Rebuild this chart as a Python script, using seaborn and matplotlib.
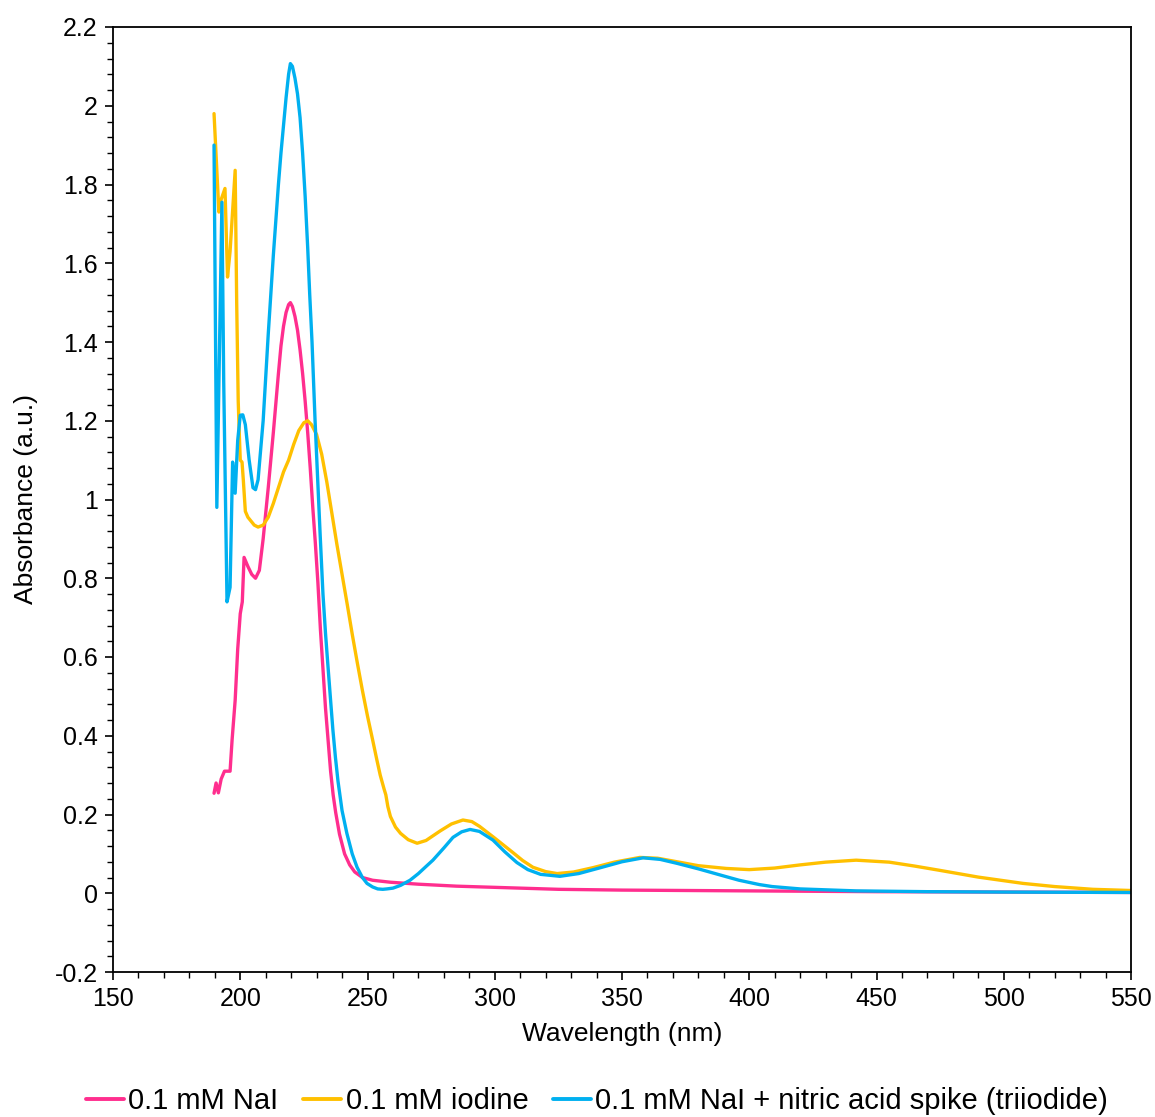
import matplotlib
matplotlib.use("Agg")
import matplotlib.pyplot as plt
import seaborn as sns
import pandas as pd
from matplotlib.ticker import MultipleLocator

# ---------------- data ----------------
nai_wl = [189.7, 190.5, 191.4, 192.5, 193.8, 195, 196, 196.8, 198, 199, 200, 200.8, 201.5,
          203, 204.5, 206, 207.5, 209, 211, 213, 215, 216, 217, 218, 219, 219.7, 220.5, 221.5,
          222.5, 223.5, 224.5, 225.5, 226.5, 227.5, 228.5, 229.5, 230.5, 231.5, 232.5, 233.5,
          234.5, 235.5, 236.5, 237.5, 239, 241, 243, 245, 248, 252, 259, 270, 285, 300, 325,
          350, 375, 400, 450, 500, 550]
nai_abs = [0.254, 0.28, 0.255, 0.29, 0.31, 0.31, 0.31, 0.39, 0.49, 0.62, 0.71, 0.74, 0.853,
           0.83, 0.81, 0.80, 0.82, 0.90, 1.03, 1.17, 1.32, 1.39, 1.44, 1.475, 1.495, 1.50, 1.49,
           1.465, 1.43, 1.38, 1.32, 1.25, 1.17, 1.08, 0.98, 0.89, 0.79, 0.67, 0.57, 0.47, 0.39,
           0.31, 0.25, 0.205, 0.15, 0.10, 0.072, 0.054, 0.04, 0.033, 0.028, 0.023, 0.018,
           0.015, 0.010, 0.008, 0.007, 0.006, 0.004, 0.003, 0.002]

iod_wl = [189.7, 191.6, 192.4, 194, 195, 196, 198, 198.6, 199.2, 199.5, 200, 200.7, 201.2,
          202, 203, 204, 205.5, 207, 209, 211, 213, 215, 217, 219, 221, 223, 225, 226.5, 228,
          230, 232, 234, 236, 238, 240, 242, 244, 246, 248, 250, 252, 253.7, 255, 256.5, 257.2,
          258, 259, 261, 263, 266, 269.5, 273, 278.5, 283, 287.5, 291, 294, 300, 307, 311,
          315, 320, 324.5, 331, 338.6, 347, 357, 364, 371.6, 380, 391, 400, 410, 420, 430,
          442, 455, 465, 475, 490, 507.6, 520, 535, 550]
iod_abs = [1.98, 1.73, 1.76, 1.79, 1.565, 1.63, 1.836, 1.5, 1.25, 1.19, 1.10, 1.095, 1.05,
           0.97, 0.955, 0.947, 0.935, 0.93, 0.935, 0.955, 0.99, 1.03, 1.07, 1.10, 1.14, 1.175,
           1.195, 1.20, 1.19, 1.165, 1.115, 1.045, 0.965, 0.885, 0.81, 0.735, 0.658, 0.585,
           0.515, 0.45, 0.39, 0.338, 0.30, 0.265, 0.25, 0.22, 0.195, 0.168, 0.152, 0.136,
           0.127, 0.134, 0.158, 0.176, 0.186, 0.182, 0.17, 0.14, 0.104, 0.083, 0.066, 0.055,
           0.05, 0.054, 0.065, 0.079, 0.091, 0.089, 0.08, 0.07, 0.063, 0.06, 0.064, 0.072,
           0.079, 0.084, 0.079, 0.069, 0.058, 0.041, 0.025, 0.017, 0.010, 0.007]

tri_wl = [189.7, 190.8, 192.8, 193.5, 194.8, 196, 197, 198, 199, 200, 201, 202, 203.5, 205,
          206, 207, 209, 211, 212, 213, 214, 215, 216, 217, 218, 219, 219.7, 220.5, 221.5,
          222.5, 223.5, 224.5, 225.5, 226.5, 227.3, 228.2, 229.4, 230.5, 231.4, 232.5, 233.5,
          234.5, 235.5, 236.4, 237.4, 238.4, 240, 241.9, 244, 245.9, 248, 249.8, 252, 254,
          256, 257.6, 260, 263, 266.7, 270, 273, 275.7, 280, 283.6, 287, 290.3, 294, 299.3,
          304, 308.7, 313, 318, 325.6, 333, 341, 350, 358.3, 365, 371.6, 380, 391, 396, 404,
          409, 420, 442, 470, 500, 550]
tri_abs = [1.90, 0.98, 1.755, 1.30, 0.74, 0.777, 1.095, 1.016, 1.15, 1.214, 1.215, 1.19, 1.10,
           1.03, 1.025, 1.05, 1.20, 1.42, 1.52, 1.62, 1.71, 1.80, 1.88, 1.95, 2.02, 2.08, 2.107,
           2.10, 2.07, 2.03, 1.97, 1.88, 1.77, 1.64, 1.52, 1.40, 1.20, 1.04, 0.91, 0.76, 0.66,
           0.574, 0.49, 0.415, 0.345, 0.285, 0.21, 0.152, 0.10, 0.066, 0.04, 0.025, 0.016,
           0.011, 0.010, 0.011, 0.013, 0.02, 0.033, 0.05, 0.068, 0.084, 0.115, 0.142, 0.156,
           0.162, 0.157, 0.135, 0.105, 0.078, 0.06, 0.048, 0.043, 0.05, 0.064, 0.08, 0.09,
           0.086, 0.076, 0.062, 0.042, 0.033, 0.022, 0.017, 0.011, 0.006, 0.004, 0.003, 0.002]

labels = ["0.1 mM NaI", "0.1 mM iodine", "0.1 mM NaI + nitric acid spike (triiodide)"]
colors = ["#FF2E8E", "#FFC000", "#00B0F0"]

df = pd.concat([
    pd.DataFrame({"Wavelength": nai_wl, "Absorbance": nai_abs, "Sample": labels[0]}),
    pd.DataFrame({"Wavelength": iod_wl, "Absorbance": iod_abs, "Sample": labels[1]}),
    pd.DataFrame({"Wavelength": tri_wl, "Absorbance": tri_abs, "Sample": labels[2]}),
], ignore_index=True)

# ---------------- style ----------------
sns.set_style("ticks")
plt.rcParams["font.family"] = ["Liberation Sans", "DejaVu Sans"]
plt.rcParams["text.color"] = "black"
plt.rcParams["axes.labelcolor"] = "black"

fig = plt.figure(figsize=(11.55, 11.17), dpi=100)
ax = fig.add_axes([113 / 1155, 1 - 972 / 1117, (1131 - 113) / 1155, (972 - 27) / 1117])

sns.lineplot(data=df, x="Wavelength", y="Absorbance", hue="Sample",
             palette=dict(zip(labels, colors)), hue_order=labels,
             estimator=None, sort=False, linewidth=2.4, ax=ax, legend=False)

ax.set_xlim(150, 550)
ax.set_ylim(-0.2, 2.2)
ax.xaxis.set_major_locator(MultipleLocator(50))
ax.xaxis.set_minor_locator(MultipleLocator(10))
ax.yaxis.set_major_locator(MultipleLocator(0.2))
ax.yaxis.set_minor_locator(MultipleLocator(0.04))
ax.yaxis.set_major_formatter(matplotlib.ticker.FuncFormatter(
    lambda v, p: "0" if abs(v) < 1e-9 else ("%g" % round(v, 1))))

for s in ax.spines.values():
    s.set_visible(True)
    s.set_color("black")
    s.set_linewidth(1.3)

ax.tick_params(axis="both", which="major", direction="out", length=6, width=1.2,
               labelsize=18, colors="black", pad=5)
ax.tick_params(axis="both", which="minor", direction="out", length=4, width=1.0,
               colors="black")

ax.set_xlabel("Wavelength (nm)", fontsize=19, labelpad=8, color="black")
ax.set_ylabel("Absorbance (a.u.)", fontsize=19, labelpad=12, color="black")

handles = [matplotlib.lines.Line2D([], [], color=c, lw=2.8) for c in colors]
fig.legend(handles, labels, loc="center", bbox_to_anchor=(0.517, 1 - 1101 / 1117),
           ncol=3, frameon=False, fontsize=21, handlelength=1.3, handletextpad=0.15,
           columnspacing=0.85)

fig.savefig("out.png", dpi=100)
